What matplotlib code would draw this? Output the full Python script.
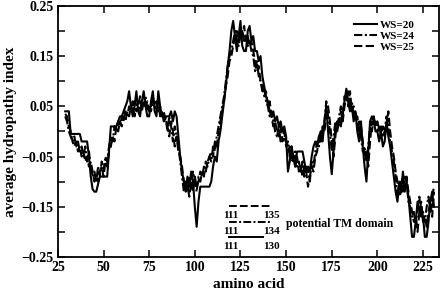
import numpy as np
import matplotlib
matplotlib.use("Agg")
import matplotlib.pyplot as plt
from matplotlib.ticker import MultipleLocator, FixedLocator

# hydropathy profiles, one value per residue starting at residue 29
first_residue = 29

ws20 = [0.04, 0.04, 0.04, -0.005, -0.005, -0.005, -0.005, -0.005, -0.005, -0.02,
        -0.02, -0.02, -0.02, -0.05, -0.09, -0.115, -0.12, -0.12, -0.105, -0.09,
        -0.09, -0.09, -0.09, -0.09, -0.04, 0.01, 0.01, 0.01, 0.01, 0.02,
        0.03, 0.03, 0.04, 0.05, 0.06, 0.08, 0.05, 0.03, 0.05, 0.08,
        0.04, 0.03, 0.06, 0.08, 0.05, 0.03, 0.03, 0.06, 0.08, 0.04,
        0.03, 0.08, 0.05, 0.03, 0.03, 0.03, 0.03, 0.03, 0.04, 0.02,
        0.04, 0.03, -0.01, -0.05, -0.08, -0.1, -0.115, -0.09, -0.11, -0.08,
        -0.1, -0.15, -0.19, -0.14, -0.11, -0.11, -0.11, -0.11, -0.11, -0.11,
        -0.1, -0.07, -0.05, -0.06, -0.02, 0.0, 0.03, 0.06, 0.09, 0.13,
        0.16, 0.2, 0.22, 0.19, 0.16, 0.19, 0.22, 0.17, 0.16, 0.16,
        0.2, 0.21, 0.18, 0.19, 0.16, 0.16, 0.14, 0.15, 0.11, 0.09,
        0.07, 0.06, 0.04, 0.03, 0.04, 0.02, 0.03, 0.01, 0.02, 0.0,
        0.01, -0.01, -0.08, -0.06, -0.03, -0.05, -0.07, -0.04, -0.04, -0.04,
        -0.04, -0.06, -0.08, -0.07, -0.08, -0.05, -0.03, -0.02, -0.03, -0.01,
        0.0, -0.02, 0.02, 0.05, 0.0, -0.05, -0.085, -0.04, 0.01, 0.0,
        0.02, 0.01, 0.04, 0.06, 0.085, 0.06, 0.04, 0.05, 0.02, 0.04,
        0.0, -0.02, 0.02, -0.03, -0.07, -0.1, -0.04, 0.02, 0.03, 0.02,
        0.0, 0.0, -0.02, 0.0, -0.03, -0.02, 0.02, -0.01, -0.03, -0.06,
        -0.09, -0.12, -0.14, -0.1, -0.12, -0.08, -0.12, -0.1, -0.13, -0.17,
        -0.21, -0.21, -0.18, -0.14, -0.16, -0.15, -0.17, -0.21, -0.21, -0.18,
        -0.14, -0.12, -0.15]

ws24 = [0.03, 0.02, 0.0, -0.01, -0.02, -0.01, -0.03, -0.02, -0.04, -0.03,
        -0.05, -0.03, -0.06, -0.04, -0.07, -0.09, -0.08, -0.1, -0.07, -0.09,
        -0.06, -0.08, -0.05, -0.06, -0.03, -0.01, -0.02, 0.01, 0.0, 0.02,
        0.01, 0.03, 0.02, 0.04, 0.03, 0.05, 0.04, 0.06, 0.03, 0.05,
        0.06, 0.04, 0.06, 0.05, 0.07, 0.04, 0.05, 0.04, 0.06, 0.05,
        0.04, 0.06, 0.03, 0.04, 0.02, 0.03, 0.0, 0.03, 0.01, -0.02,
        0.01, -0.01, -0.03, -0.06, -0.09, -0.12, -0.1, -0.12, -0.09, -0.11,
        -0.08, -0.1, -0.12, -0.09, -0.1, -0.08, -0.09, -0.06, -0.07, -0.05,
        -0.06, -0.03, -0.04, -0.01, 0.01, 0.03, 0.05, 0.07, 0.1, 0.13,
        0.15, 0.16, 0.18, 0.2, 0.18, 0.17, 0.19, 0.2, 0.18, 0.19,
        0.17, 0.18, 0.16, 0.15, 0.12, 0.14, 0.11, 0.1, 0.08, 0.09,
        0.06, 0.05, 0.03, 0.04, 0.02, 0.0, -0.01, 0.01, -0.02, -0.01,
        0.0, -0.03, -0.02, -0.05, -0.03, -0.06, -0.04, -0.07, -0.06, -0.08,
        -0.06, -0.09, -0.07, -0.08, -0.1, -0.06, -0.07, -0.04, -0.02, -0.03,
        0.0, -0.01, 0.02, 0.06, 0.03, 0.0, -0.04, -0.01, 0.02, 0.01,
        0.03, 0.05, 0.03, 0.07, 0.06, 0.08, 0.05, 0.06, 0.03, 0.04,
        0.01, 0.02, -0.01, -0.04, -0.03, -0.06, -0.03, 0.01, 0.0, 0.03,
        0.01, 0.02, 0.0, 0.01, -0.01, 0.0, 0.03, 0.01, -0.02, -0.04,
        -0.06, -0.09, -0.13, -0.11, -0.1, -0.12, -0.09, -0.1, -0.14, -0.15,
        -0.17, -0.16, -0.19, -0.15, -0.13, -0.17, -0.16, -0.18, -0.15, -0.13,
        -0.16, -0.13, -0.11]

ws25 = [0.035, 0.03, 0.01, 0.0, -0.02, -0.03, -0.02, -0.04, -0.03, -0.05,
        -0.04, -0.06, -0.05, -0.07, -0.06, -0.08, -0.1, -0.09, -0.1, -0.08,
        -0.07, -0.09, -0.06, -0.07, -0.04, -0.03, -0.01, -0.02, 0.01, 0.0,
        0.02, 0.01, 0.03, 0.02, 0.04, 0.03, 0.05, 0.04, 0.06, 0.04,
        0.05, 0.07, 0.04, 0.06, 0.05, 0.06, 0.04, 0.05, 0.07, 0.05,
        0.06, 0.04, 0.05, 0.03, 0.04, 0.02, 0.01, -0.01, 0.02, 0.0,
        -0.03, -0.01, -0.04, -0.05, -0.07, -0.1, -0.12, -0.11, -0.13, -0.1,
        -0.12, -0.09, -0.11, -0.1, -0.08, -0.09, -0.07, -0.08, -0.06, -0.05,
        -0.04, -0.05, -0.02, -0.03, 0.0, 0.02, 0.04, 0.06, 0.09, 0.11,
        0.14, 0.15, 0.17, 0.19, 0.2, 0.18, 0.2, 0.19, 0.21, 0.18,
        0.19, 0.17, 0.18, 0.16, 0.14, 0.12, 0.13, 0.1, 0.09, 0.07,
        0.08, 0.05, 0.06, 0.03, 0.01, 0.02, 0.0, -0.01, 0.01, -0.02,
        -0.01, -0.02, -0.04, -0.03, -0.06, -0.05, -0.07, -0.05, -0.08, -0.07,
        -0.09, -0.07, -0.08, -0.11, -0.09, -0.07, -0.08, -0.05, -0.04, -0.01,
        -0.02, 0.01, 0.0, 0.03, 0.05, 0.02, -0.02, -0.05, -0.01, 0.02,
        0.01, 0.04, 0.02, 0.05, 0.07, 0.05, 0.08, 0.04, 0.05, 0.02,
        0.03, 0.0, 0.01, -0.02, -0.05, -0.04, -0.07, -0.02, 0.02, 0.01,
        0.02, 0.0, 0.01, -0.01, 0.01, -0.01, 0.01, 0.04, 0.0, -0.03,
        -0.05, -0.08, -0.1, -0.13, -0.12, -0.09, -0.11, -0.09, -0.12, -0.14,
        -0.16, -0.18, -0.17, -0.2, -0.16, -0.14, -0.18, -0.17, -0.19, -0.16,
        -0.14, -0.17, -0.12]

series_labels = ["WS=20", "WS=24", "WS=25"]

# potential TM domain ranges (start, end) for WS=25, WS=24, WS=20
tm_ranges = [(111, 135), (111, 134), (111, 130)]
tm_levels = [-0.148, -0.18, -0.21]
tm_styles = [(0, (4, 1.6)), (0, (4, 1.2, 1, 1.2)), "-"]

plt.rcParams["font.family"] = ["Liberation Serif", "DejaVu Serif"]
plt.rcParams["font.weight"] = "bold"

fig = plt.figure(figsize=(4.42, 2.94), dpi=100)
ax = fig.add_axes([0.131, 0.126, 0.862, 0.854])

x = np.arange(first_residue, first_residue + len(ws20))
ax.plot(x, ws20, color="black", lw=1.5, ls="-", label=series_labels[0])
ax.plot(x[:len(ws24)], ws24, color="black", lw=1.5, ls=(0, (4, 1.2, 1, 1.2)), label=series_labels[1])
ax.plot(x[:len(ws25)], ws25, color="black", lw=1.5, ls=(0, (4, 1.6)), label=series_labels[2])

# TM domain markers (drawn offset to the right of the residue numbers, as in the original)
shift = 7.5
for (s, e), yv, st in zip(tm_ranges, tm_levels, tm_styles):
    ax.plot([s + shift, e + shift], [yv, yv], color="black", lw=1.4, ls=st)
    ax.text(s + shift - 2.8, yv - 0.02, str(s), fontsize=8, ha="left", va="center", fontweight="bold")
    ax.text(136 + shift - 6.2, yv - 0.02, str(e), fontsize=8, ha="left", va="center", fontweight="bold")
ax.text(150, -0.184, "potential TM domain", fontsize=8.5, ha="left", va="center", fontweight="bold")

ax.set_xlim(25, 233.7)
ax.set_ylim(-0.25, 0.25)
ax.xaxis.set_major_locator(MultipleLocator(25))
ax.yaxis.set_major_locator(FixedLocator([-0.25, -0.15, -0.05, 0.05, 0.15, 0.25]))
ax.yaxis.set_minor_locator(FixedLocator([-0.2, -0.1, 0.0, 0.1, 0.2]))
ax.tick_params(which="both", direction="in", top=True, right=True, labelsize=10, width=1.1)
ax.tick_params(which="major", length=5, pad=3)
ax.tick_params(which="minor", length=5)
for lab in ax.get_xticklabels() + ax.get_yticklabels():
    lab.set_fontweight("bold")
for sp in ax.spines.values():
    sp.set_linewidth(1.3)

ax.set_xlabel("amino acid", fontsize=11, fontweight="bold", labelpad=3)
ax.set_ylabel("average hydropathy index", fontsize=11, fontweight="bold", labelpad=3)

ax.legend(loc="upper right", bbox_to_anchor=(0.975, 1.0), frameon=False, fontsize=8,
          handlelength=2.0, handletextpad=0.3, labelspacing=0.1, borderaxespad=0.9)

fig.savefig("out.png", dpi=100)
